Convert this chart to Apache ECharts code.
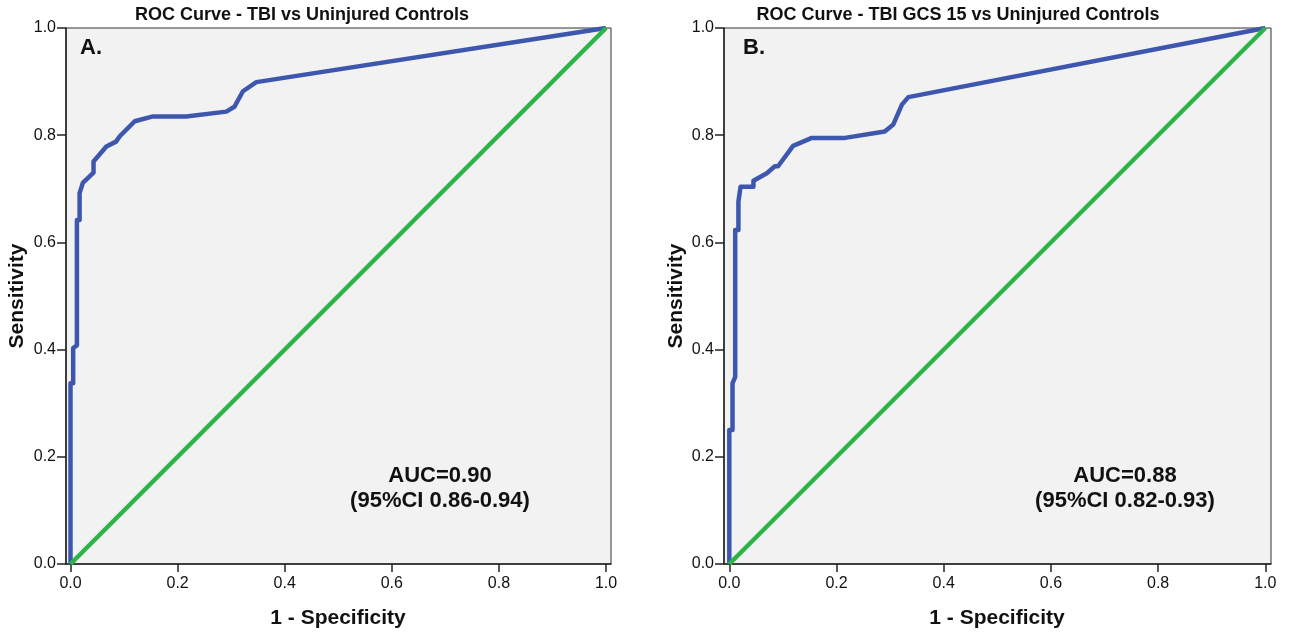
<!DOCTYPE html>
<html>
<head>
<meta charset="utf-8">
<script src="https://cdn.jsdelivr.net/npm/echarts@6/dist/echarts.min.js"></script>
<style>
html,body{margin:0;padding:0;background:#fff;}
#c{width:1291px;height:635px;}
</style>
</head>
<body>
<div id="c"></div>
<script>
// Panel A: TBI vs Uninjured Controls
const fprA = [0, 0, 0.005, 0.005, 0.012, 0.012, 0.017, 0.017, 0.023, 0.043, 0.043, 0.067, 0.085, 0.092, 0.120, 0.154, 0.216, 0.291, 0.306, 0.322, 0.347, 1];
const tprA = [0, 0.337, 0.337, 0.403, 0.408, 0.642, 0.642, 0.692, 0.711, 0.730, 0.751, 0.779, 0.788, 0.798, 0.826, 0.835, 0.835, 0.844, 0.853, 0.882, 0.899, 1];
// Panel B: TBI GCS 15 vs Uninjured Controls
const fprB = [0, 0, 0.006, 0.006, 0.011, 0.011, 0.017, 0.017, 0.021, 0.045, 0.045, 0.070, 0.085, 0.091, 0.119, 0.154, 0.216, 0.290, 0.306, 0.322, 0.334, 1];
const tprB = [0, 0.250, 0.250, 0.337, 0.349, 0.623, 0.623, 0.676, 0.704, 0.704, 0.715, 0.729, 0.742, 0.742, 0.780, 0.795, 0.795, 0.807, 0.820, 0.857, 0.871, 1];
// Reference line
const refX = [0, 1];
const refY = [0, 1];
const tickValues = [0, 0.2, 0.4, 0.6, 0.8, 1.0];
const titles = ['ROC Curve - TBI vs Uninjured Controls', 'ROC Curve - TBI GCS 15 vs Uninjured Controls'];
const panelLetters = ['A.', 'B.'];
const aucLines = [['AUC=0.90', '(95%CI 0.86-0.94)'], ['AUC=0.88', '(95%CI 0.82-0.93)']];
const xName = '1 - Specificity';
const yName = 'Sensitivity';

const FONT = '"Liberation Sans", Arial, sans-serif';
const BLUE = '#3E57AE';
const GREEN = '#2DB449';

const grids = [
  {left: 66, top: 28, width: 545, height: 536},
  {left: 724, top: 28, width: 547, height: 536}
];
const xRanges = [[-0.0084, 1.0093], [-0.0099, 1.0106]];

function zip(a, b) { return a.map((v, i) => [v, b[i]]); }

const option = {
  animation: false,
  backgroundColor: '#fff',
  grid: grids.map(g => Object.assign({
    show: true, backgroundColor: '#F2F2F2', borderColor: '#333', borderWidth: 1, containLabel: false
  }, g)),
  xAxis: [0, 1].map(i => ({
    type: 'value', gridIndex: i, min: xRanges[i][0], max: xRanges[i][1],
    splitLine: {show: false},
    axisLine: {show: true, onZero: false, lineStyle: {color: '#222', width: 1.5}},
    axisTick: {show: true, length: 8, customValues: tickValues, lineStyle: {color: '#222', width: 1.5}},
    axisLabel: {customValues: tickValues, margin: 12, fontFamily: FONT, fontSize: 16, color: '#111',
      formatter: v => v.toFixed(1)}
  })),
  yAxis: [0, 1].map(i => ({
    type: 'value', gridIndex: i, min: 0, max: 1, interval: 0.2,
    splitLine: {show: false},
    axisLine: {show: true, onZero: false, lineStyle: {color: '#222', width: 1.5}},
    axisTick: {show: true, length: 9, lineStyle: {color: '#222', width: 1.5}},
    axisLabel: {margin: 10, fontFamily: FONT, fontSize: 16, color: '#111', formatter: v => v.toFixed(1)}
  })),
  series: [
    {type: 'line', xAxisIndex: 0, yAxisIndex: 0, data: zip(fprA, tprA), showSymbol: false,
      lineStyle: {color: BLUE, width: 4.5, join: 'round'}, z: 2},
    {type: 'line', xAxisIndex: 0, yAxisIndex: 0, data: zip(refX, refY), showSymbol: false,
      lineStyle: {color: GREEN, width: 4.5}, z: 3},
    {type: 'line', xAxisIndex: 1, yAxisIndex: 1, data: zip(fprB, tprB), showSymbol: false,
      lineStyle: {color: BLUE, width: 4.5, join: 'round'}, z: 2},
    {type: 'line', xAxisIndex: 1, yAxisIndex: 1, data: zip(refX, refY), showSymbol: false,
      lineStyle: {color: GREEN, width: 4.5}, z: 3}
  ],
  graphic: []
};

const titleX = [302, 958];
const letterX = [80, 743];
const aucX = [440, 1125];
const nameX = [338, 997];
const yNameX = [17, 676];
for (let i = 0; i < 2; i++) {
  option.graphic.push(
    {type: 'text', x: titleX[i], y: 15, z: 100,
      style: {text: titles[i], font: 'bold 18px ' + FONT, fill: '#111', align: 'center', verticalAlign: 'middle'}},
    {type: 'text', x: letterX[i], y: 48, z: 100,
      style: {text: panelLetters[i], font: 'bold 22px ' + FONT, fill: '#111', align: 'left', verticalAlign: 'middle'}},
    {type: 'text', x: aucX[i], y: 476, z: 100,
      style: {text: aucLines[i][0], font: 'bold 22px ' + FONT, fill: '#111', align: 'center', verticalAlign: 'middle'}},
    {type: 'text', x: aucX[i], y: 501, z: 100,
      style: {text: aucLines[i][1], font: 'bold 22px ' + FONT, fill: '#111', align: 'center', verticalAlign: 'middle'}},
    {type: 'text', x: nameX[i], y: 618, z: 100,
      style: {text: xName, font: 'bold 21px ' + FONT, fill: '#111', align: 'center', verticalAlign: 'middle'}},
    {type: 'text', x: yNameX[i], y: 296, rotation: Math.PI / 2, z: 100,
      style: {text: yName, font: 'bold 21px ' + FONT, fill: '#111', align: 'center', verticalAlign: 'middle'}}
  );
}

const chart = echarts.init(document.getElementById('c'), null, {renderer: 'canvas'});
chart.setOption(option);
</script>
</body>
</html>
